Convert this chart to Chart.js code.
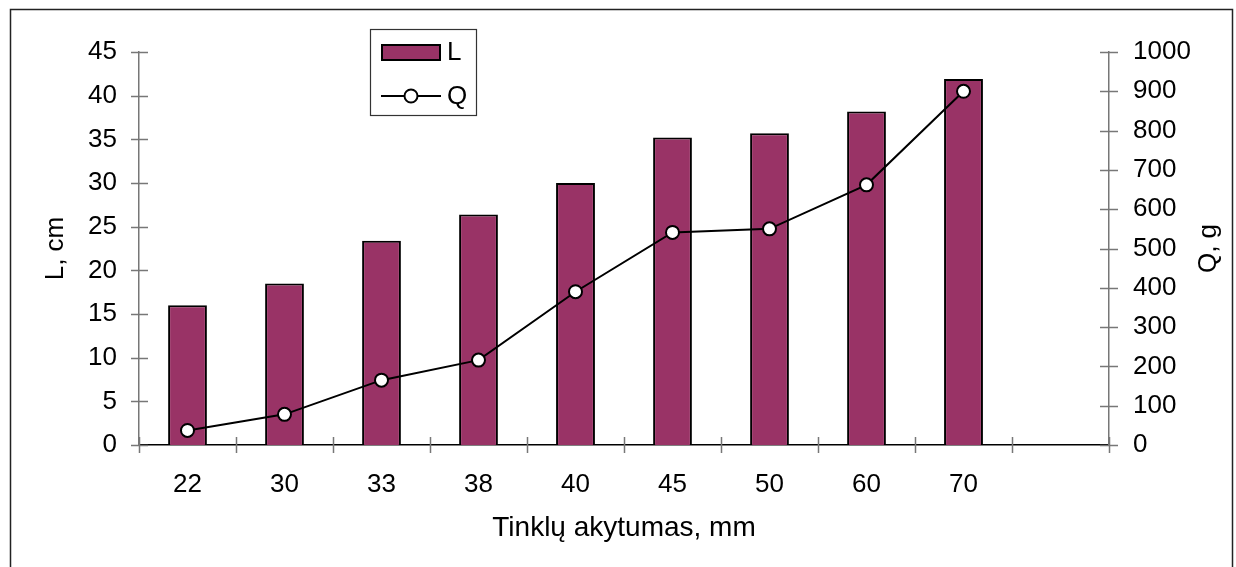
<!DOCTYPE html>
<html><head><meta charset="utf-8">
<script src="https://cdn.jsdelivr.net/npm/chart.js@4"></script>
<style>html,body{margin:0;padding:0;background:#fff;overflow:hidden}</style>
</head><body>
<canvas id="c" width="1236" height="567"></canvas>
<script>
// ---- data ----
const categories = ['22', '30', '33', '38', '40', '45', '50', '60', '70', ''];
const valuesL = [16.0, 18.5, 23.4, 26.4, 30.0, 35.2, 35.7, 38.2, 41.9];
const valuesQ = [37, 78, 165, 216, 390, 541, 550, 662, 900];
const seriesNames = ['L', 'Q'];
const axisTitleX = 'Tinklų akytumas, mm';
const axisTitleL = 'L, cm';
const axisTitleQ = 'Q, g';
const leftAxis = { min: 0, max: 45, step: 5 };
const rightAxis = { min: 0, max: 1000, step: 100 };

const FONT = "'Liberation Sans', Arial, sans-serif";
const BAR_COLOR = '#993366';
Chart.defaults.font.family = FONT;
Chart.defaults.font.size = 26;
Chart.defaults.color = '#000';

const decor = {
  id: 'decor',
  beforeDraw(chart) {
    const ctx = chart.ctx;
    ctx.save();
    ctx.fillStyle = '#fff';
    ctx.fillRect(0, 0, chart.width, chart.height);
    ctx.strokeStyle = '#222';
    ctx.lineWidth = 1.5;
    ctx.strokeRect(10.5, 9.5, 1222, 600);
    ctx.restore();
  },
  afterDraw(chart) {
    const ctx = chart.ctx;
    const { x, y, y1 } = chart.scales;
    ctx.save();
    ctx.strokeStyle = '#777';
    ctx.lineWidth = 1.5;
    y.ticks.forEach(t => {
      const py = Math.round(y.getPixelForValue(t.value)) + 0.5;
      ctx.beginPath(); ctx.moveTo(y.right - 8, py); ctx.lineTo(y.right + 9, py); ctx.stroke();
    });
    y1.ticks.forEach(t => {
      const py = Math.round(y1.getPixelForValue(t.value)) + 0.5;
      ctx.beginPath(); ctx.moveTo(y1.left - 9, py); ctx.lineTo(y1.left + 9, py); ctx.stroke();
    });
    for (let i = 0; i <= categories.length; i++) {
      const px = Math.round(x.getPixelForValue(i - 0.5)) + 0.5;
      ctx.beginPath(); ctx.moveTo(px, x.top - 8); ctx.lineTo(px, x.top + 8); ctx.stroke();
    }
    // right title
    ctx.fillStyle = '#000';
    ctx.font = '26px ' + FONT;
    ctx.textAlign = 'center';
    ctx.textBaseline = 'middle';
    ctx.save();
    ctx.translate(1209, (chart.chartArea.top + chart.chartArea.bottom) / 2);
    ctx.rotate(-Math.PI / 2);
    ctx.fillText(axisTitleQ, 0, 0);
    ctx.restore();
    // legend
    ctx.fillStyle = '#fff';
    ctx.fillRect(370.5, 29.5, 106, 86);
    ctx.strokeStyle = '#333';
    ctx.lineWidth = 1.2;
    ctx.strokeRect(370.5, 29.5, 106, 86);
    ctx.fillStyle = BAR_COLOR;
    ctx.fillRect(382, 45, 58, 15);
    ctx.strokeStyle = '#000';
    ctx.lineWidth = 2;
    ctx.strokeRect(382, 45, 58, 15);
    ctx.beginPath(); ctx.moveTo(381, 96); ctx.lineTo(441, 96); ctx.stroke();
    ctx.beginPath(); ctx.arc(411, 96, 6.5, 0, Math.PI * 2);
    ctx.fillStyle = '#fff'; ctx.fill(); ctx.stroke();
    ctx.fillStyle = '#000';
    ctx.textAlign = 'left';
    ctx.fillText(seriesNames[0], 447, 53);
    ctx.fillText(seriesNames[1], 447, 97);
    ctx.restore();
  }
};

new Chart(document.getElementById('c'), {
  data: {
    labels: categories,
    datasets: [
      {
        type: 'line', label: seriesNames[1], data: valuesQ, yAxisID: 'y1', order: 0,
        borderColor: '#000', borderWidth: 2, tension: 0,
        pointRadius: 6.5, pointBackgroundColor: '#fff', pointBorderColor: '#000', pointBorderWidth: 2
      },
      {
        type: 'bar', label: seriesNames[0], data: valuesL, yAxisID: 'y', order: 1,
        backgroundColor: BAR_COLOR, borderColor: '#000', borderWidth: 2,
        barPercentage: 0.4, categoryPercentage: 1.0
      }
    ]
  },
  options: {
    responsive: false,
    animation: false,
    devicePixelRatio: 1,
    layout: { padding: { top: 52, left: 0, right: 0, bottom: 0 } },
    plugins: { legend: { display: false }, tooltip: { enabled: false } },
    scales: {
      x: {
        type: 'category', offset: true,
        grid: { display: false, drawTicks: false },
        border: { display: true, color: '#000', width: 1.5 },
        ticks: { padding: 24, maxRotation: 0, autoSkip: false, color: '#000' },
        title: { display: true, text: axisTitleX, font: { size: 28 }, padding: { top: 0, bottom: 22 }, color: '#000' },
        afterFit(s) { s.height = 122; }
      },
      y: {
        position: 'left', min: leftAxis.min, max: leftAxis.max,
        grid: { display: false, drawTicks: false },
        border: { display: true, color: '#777', width: 1.5 },
        ticks: { stepSize: leftAxis.step, padding: 22, color: '#000' },
        title: { display: true, text: axisTitleL, padding: { top: 40, bottom: 0 }, color: '#000' },
        afterFit(s) { s.width = 139; }
      },
      y1: {
        position: 'right', min: rightAxis.min, max: rightAxis.max,
        grid: { display: false, drawTicks: false },
        border: { display: true, color: '#777', width: 1.5 },
        ticks: { stepSize: rightAxis.step, padding: 24, color: '#000', callback: v => String(v) },
        afterFit(s) { s.width = 127; }
      }
    }
  },
  plugins: [decor]
});
</script>
</body></html>
